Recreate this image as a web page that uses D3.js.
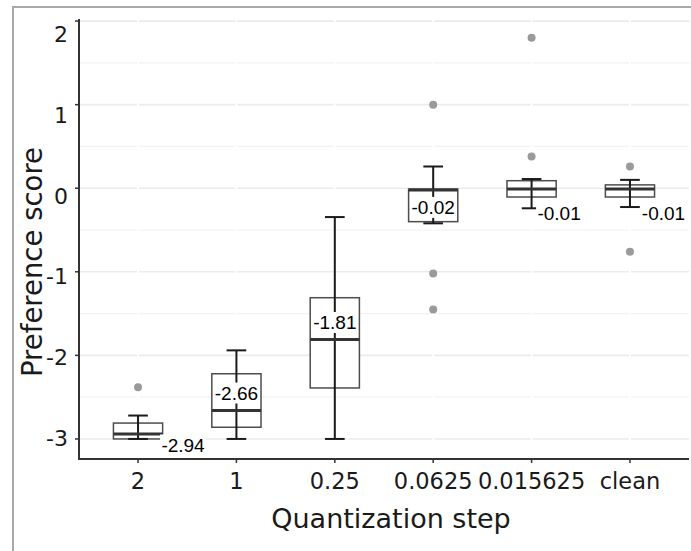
<!DOCTYPE html>
<html>
<head>
<meta charset="utf-8">
<script src="https://cdn.jsdelivr.net/npm/d3@7"></script>
<style>
  body { margin: 0; background: #fff; }
  svg { display: block; }
</style>
</head>
<body>
<svg></svg>
<script>
// data
var categories   = ["2", "1", "0.25", "0.0625", "0.015625", "clean"];
var whiskerLow   = [-3.0, -3.0, -3.0, -0.42, -0.24, -0.225];
var q1           = [-3.0, -2.86, -2.39, -0.40, -0.105, -0.105];
var medians      = [-2.94, -2.66, -1.81, -0.02, -0.01, -0.01];
var q3           = [-2.81, -2.22, -1.31, -0.01, 0.09, 0.04];
var whiskerHigh  = [-2.72, -1.94, -0.345, 0.26, 0.11, 0.10];
var outliers     = [[-2.38], [], [], [1.0, -1.02, -1.45], [1.80, 0.38], [0.26, -0.76]];
var medianLabels = ["-2.94", "-2.66", "-1.81", "-0.02", "-0.01", "-0.01"];
var yTicks       = [-3, -2, -1, 0, 1, 2];
var yMinor       = [-2.5, -1.5, -0.5, 0.5, 1.5];

var width = 691, height = 551;
var mLeft = 79, mRight = 689, mTop = 19, mBottom = 459;

var svg = d3.select('svg')
    .attr('width', width)
    .attr('height', height);

// outer frame (cut by the window on the right and bottom)
svg.append('rect')
    .attr('x', 13).attr('y', 7)
    .attr('width', 720).attr('height', 600)
    .attr('fill', 'none')
    .attr('stroke', '#a9a9a9')
    .attr('stroke-width', 2);

var x = d3.scalePoint()
    .domain(categories)
    .range([mLeft, mRight])
    .padding(0.6);

var y = d3.scaleLinear()
    .domain([-3.24, 2.025])
    .range([mBottom, mTop]);

// the tick labels sit a little off their ticks in the reference
var yLab = d3.scaleLinear()
    .domain([-3, 2])
    .range([438, 34]);

var boxW = x.step() * 0.5;
var capW = x.step() * 0.2;

// grid
var grid = svg.append('g');
grid.selectAll('line.minor')
    .data(yMinor)
    .enter()
    .append('line')
    .attr('x1', mLeft).attr('x2', mRight)
    .attr('y1', d => y(d)).attr('y2', d => y(d))
    .attr('stroke', '#f2f2f2')
    .attr('stroke-width', 1.2);
grid.selectAll('line.major')
    .data(yTicks)
    .enter()
    .append('line')
    .attr('x1', mLeft).attr('x2', mRight)
    .attr('y1', d => y(d)).attr('y2', d => y(d))
    .attr('stroke', '#ebebeb')
    .attr('stroke-width', 1.6);
grid.selectAll('line.vert')
    .data(categories)
    .enter()
    .append('line')
    .attr('x1', d => x(d)).attr('x2', d => x(d))
    .attr('y1', mTop).attr('y2', mBottom)
    .attr('stroke', '#fff')
    .attr('stroke-width', 2);

// outliers
categories.forEach(function(c, i) {
    svg.append('g')
        .selectAll('circle')
        .data(outliers[i])
        .enter()
        .append('circle')
        .attr('cx', x(c))
        .attr('cy', d => y(d))
        .attr('r', 4)
        .attr('fill', '#9a9a9a');
});

var boxes = svg.append('g')
    .selectAll('g')
    .data(categories)
    .enter()
    .append('g');

boxes.append('rect')
    .attr('x', d => x(d) - boxW / 2)
    .attr('width', boxW)
    .attr('y', (d, i) => y(q3[i]))
    .attr('height', (d, i) => y(q1[i]) - y(q3[i]))
    .attr('fill', '#fff')
    .attr('stroke', '#4d4d4d')
    .attr('stroke-width', 1.5);

// errorbar whiskers drawn across the box
boxes.append('line')
    .attr('x1', d => x(d)).attr('x2', d => x(d))
    .attr('y1', (d, i) => y(whiskerLow[i]))
    .attr('y2', (d, i) => y(whiskerHigh[i]))
    .attr('stroke', '#1a1a1a')
    .attr('stroke-width', 2);
boxes.append('line')
    .attr('x1', d => x(d) - capW / 2).attr('x2', d => x(d) + capW / 2)
    .attr('y1', (d, i) => y(whiskerHigh[i]))
    .attr('y2', (d, i) => y(whiskerHigh[i]))
    .attr('stroke', '#1a1a1a')
    .attr('stroke-width', 2);
boxes.append('line')
    .attr('x1', d => x(d) - capW / 2).attr('x2', d => x(d) + capW / 2)
    .attr('y1', (d, i) => y(whiskerLow[i]))
    .attr('y2', (d, i) => y(whiskerLow[i]))
    .attr('stroke', '#1a1a1a')
    .attr('stroke-width', 2);

boxes.append('line')
    .attr('x1', d => x(d) - boxW / 2).attr('x2', d => x(d) + boxW / 2)
    .attr('y1', (d, i) => y(medians[i]))
    .attr('y2', (d, i) => y(medians[i]))
    .attr('stroke', '#333')
    .attr('stroke-width', 3);

// median labels, placed like the repelled labels of the reference
var nudge = [[45, 11], [0, -17.5], [0, -17], [0, 17.5], [27.5, 24.5], [33.5, 24.5]];
var labels = boxes.append('g')
    .attr('transform', (d, i) => 'translate(' + (x(d) + nudge[i][0]) + ',' + (y(medians[i]) + nudge[i][1]) + ')');
labels.append('rect')
    .attr('x', -23).attr('y', -10.5)
    .attr('width', 46).attr('height', 21)
    .attr('fill', '#fff');
labels.append('text')
    .attr('text-anchor', 'middle')
    .attr('dy', '0.36em')
    .style('font-family', '"Liberation Sans", Arial, sans-serif')
    .style('font-size', '19px')
    .attr('fill', '#000')
    .text((d, i) => medianLabels[i]);

// axes
svg.append('line')
    .attr('x1', mLeft).attr('x2', mLeft)
    .attr('y1', mTop).attr('y2', mBottom)
    .attr('stroke', '#333').attr('stroke-width', 2);
svg.append('line')
    .attr('x1', mLeft - 1).attr('x2', mRight)
    .attr('y1', mBottom).attr('y2', mBottom)
    .attr('stroke', '#333').attr('stroke-width', 2);

svg.append('g')
    .selectAll('line')
    .data(yTicks)
    .enter()
    .append('line')
    .attr('x1', mLeft - 4).attr('x2', mLeft)
    .attr('y1', d => y(d)).attr('y2', d => y(d))
    .attr('stroke', '#333').attr('stroke-width', 1.5);
svg.append('g')
    .selectAll('line')
    .data(categories)
    .enter()
    .append('line')
    .attr('x1', d => x(d)).attr('x2', d => x(d))
    .attr('y1', mBottom).attr('y2', mBottom + 4)
    .attr('stroke', '#333').attr('stroke-width', 1.5);

var tickFont = '"DejaVu Sans", sans-serif';

svg.append('g')
    .selectAll('text')
    .data(yTicks)
    .enter()
    .append('text')
    .attr('x', 68)
    .attr('y', d => yLab(d))
    .attr('dy', '0.36em')
    .attr('text-anchor', 'end')
    .style('font-family', tickFont)
    .style('font-size', '22px')
    .attr('fill', '#1a1a1a')
    .text(d => d);

svg.append('g')
    .selectAll('text')
    .data(categories)
    .enter()
    .append('text')
    .attr('x', d => x(d))
    .attr('y', 489)
    .attr('text-anchor', 'middle')
    .style('font-family', tickFont)
    .style('font-size', '22.5px')
    .attr('fill', '#1a1a1a')
    .text(d => d);

svg.append('text')
    .attr('x', 391)
    .attr('y', 528)
    .attr('text-anchor', 'middle')
    .style('font-family', tickFont)
    .style('font-size', '27px')
    .attr('fill', '#1a1a1a')
    .text('Quantization step');

svg.append('text')
    .attr('transform', 'translate(42,262) rotate(-90)')
    .attr('text-anchor', 'middle')
    .style('font-family', tickFont)
    .style('font-size', '27.5px')
    .attr('fill', '#1a1a1a')
    .text('Preference score');
</script>
</body>
</html>
